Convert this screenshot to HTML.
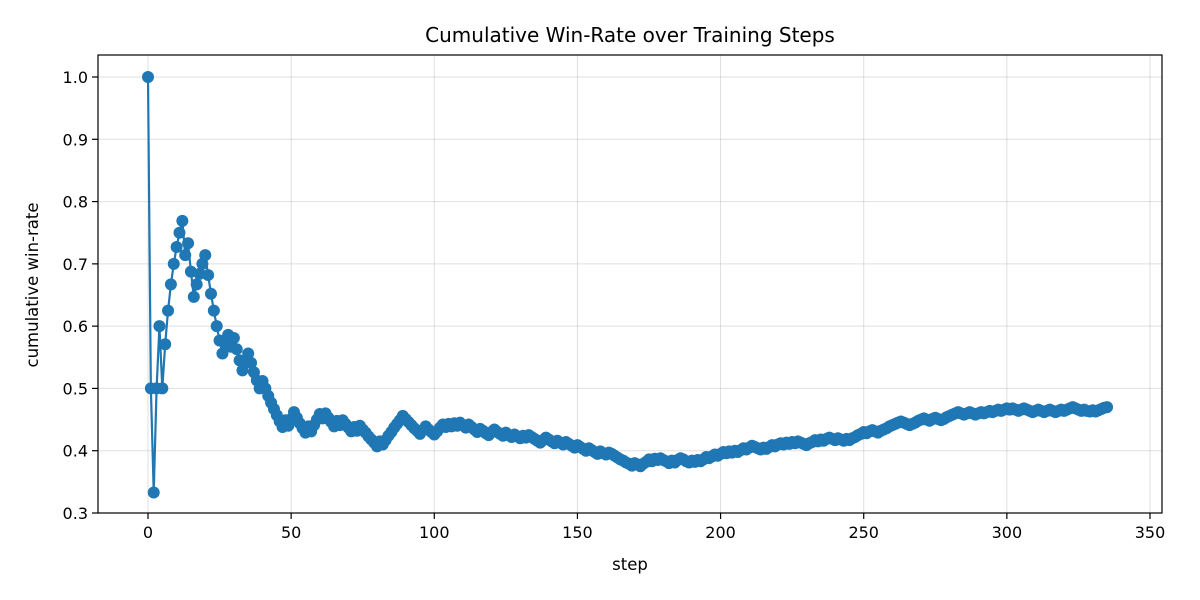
<!DOCTYPE html>
<html><head><meta charset="utf-8"><style>
html,body{margin:0;padding:0;background:#fff;}
svg{display:block;font-family:"DejaVu Sans","Liberation Sans",sans-serif;}
</style></head><body>
<svg id="chart" width="1200" height="600" viewBox="0 0 1200 600">
<rect x="0" y="0" width="1200" height="600" fill="#fff"/>
<text x="630" y="42" text-anchor="middle" font-size="20" fill="#000">Cumulative Win-Rate over Training Steps</text>
<g id="grid"></g>
<g id="xticks"></g>
<g id="yticks"></g>
<g id="series"></g>
<rect x="98" y="55" width="1064" height="458" fill="none" stroke="#000" stroke-width="1.2"/>
<text x="630" y="570" text-anchor="middle" font-size="16.5">step</text>
<text x="0" y="0" transform="translate(38,285) rotate(-90)" text-anchor="middle" font-size="16.5">cumulative win-rate</text>
</svg>
<script>
const xTicks = [0,50,100,150,200,250,300,350];
const yTicks = [0.3,0.4,0.5,0.6,0.7,0.8,0.9,1.0];
const winRate = [1.0,0.5,0.333,0.5,0.6,0.5,0.571,0.625,0.667,0.7,0.727,0.75,0.769,0.714,0.733,0.6875,0.647,0.667,0.684,0.7,
0.714,0.682,0.652,0.625,0.6,0.577,0.556,0.571,0.586,0.567,0.581,0.563,0.545,0.529,0.543,0.556,0.541,0.526,0.513,0.5,
0.512,0.5,0.488,0.477,0.467,0.457,0.447,0.438,0.449,0.44,0.451,0.462,0.453,0.444,0.436,0.429,0.439,0.431,0.441,0.45,
0.459,0.452,0.46,0.453,0.446,0.439,0.448,0.441,0.449,0.443,0.437,0.431,0.438,0.432,0.44,0.434,0.429,0.423,0.418,0.413,
0.407,0.415,0.41,0.417,0.424,0.43,0.437,0.443,0.449,0.456,0.451,0.446,0.441,0.436,0.432,0.427,0.433,0.439,0.434,0.43,
0.426,0.431,0.437,0.442,0.438,0.443,0.439,0.444,0.44,0.445,0.441,0.437,0.442,0.438,0.434,0.43,0.435,0.432,0.428,0.425,
0.43,0.434,0.43,0.427,0.424,0.429,0.425,0.422,0.426,0.423,0.42,0.424,0.421,0.425,0.422,0.419,0.416,0.413,0.417,0.421,
0.418,0.415,0.412,0.416,0.413,0.41,0.414,0.411,0.408,0.405,0.409,0.406,0.403,0.4,0.404,0.401,0.398,0.395,0.399,0.396,
0.394,0.397,0.395,0.392,0.389,0.386,0.384,0.381,0.379,0.376,0.38,0.378,0.375,0.379,0.382,0.386,0.383,0.387,0.385,0.388,
0.385,0.383,0.38,0.384,0.381,0.385,0.388,0.386,0.383,0.381,0.384,0.382,0.385,0.383,0.386,0.39,0.388,0.391,0.394,0.392,
0.395,0.398,0.396,0.399,0.397,0.4,0.398,0.401,0.404,0.402,0.405,0.408,0.406,0.404,0.402,0.405,0.403,0.406,0.409,0.407,
0.41,0.412,0.41,0.413,0.411,0.414,0.412,0.415,0.413,0.411,0.409,0.412,0.414,0.417,0.415,0.418,0.416,0.419,0.421,0.419,
0.417,0.42,0.418,0.416,0.419,0.417,0.42,0.422,0.425,0.427,0.43,0.428,0.431,0.433,0.431,0.429,0.432,0.434,0.436,0.439,
0.441,0.443,0.445,0.447,0.445,0.443,0.441,0.443,0.445,0.448,0.45,0.452,0.45,0.448,0.451,0.453,0.451,0.449,0.451,0.454,
0.456,0.458,0.46,0.462,0.46,0.458,0.46,0.462,0.46,0.458,0.46,0.462,0.46,0.462,0.464,0.462,0.464,0.466,0.464,0.466,
0.468,0.466,0.468,0.466,0.464,0.466,0.468,0.466,0.464,0.462,0.464,0.466,0.464,0.462,0.464,0.466,0.464,0.462,0.464,0.466,
0.464,0.466,0.468,0.47,0.468,0.466,0.464,0.466,0.464,0.463,0.465,0.463,0.465,0.467,0.469,0.47];

const NS = "http://www.w3.org/2000/svg";
const L = 98, R = 1162, T = 55, B = 513;
const xPx = 148, xPerUnit = (1150 - 148) / 350;
function xs(v){ return xPx + v * xPerUnit; }
function ys(v){ return B - (v - 0.3) / 0.7 * (B - 77); }
function mk(tag, attrs, parent){
  const e = document.createElementNS(NS, tag);
  for (const k in attrs) e.setAttribute(k, attrs[k]);
  parent.appendChild(e);
  return e;
}
const grid = document.getElementById('grid');
const xg = document.getElementById('xticks');
const yg = document.getElementById('yticks');
const sg = document.getElementById('series');

xTicks.forEach(t => {
  const x = xs(t);
  const gl = mk('line', {x1:x, x2:x, y1:T, y2:B, stroke:'#b0b0b0', 'stroke-width':1, 'stroke-opacity':0.4}, grid);
  
  
  const tk = mk('line', {x1:x, x2:x, y1:B, y2:B+6, stroke:'#000', 'stroke-width':1.2}, xg);
  
  
  const lb = mk('text', {x:x, y:B+25, 'text-anchor':'middle', 'font-size':16}, xg);
  lb.textContent = t;
  
  
});
yTicks.forEach(t => {
  const y = ys(t);
  const gl = mk('line', {x1:L, x2:R, y1:y, y2:y, stroke:'#b0b0b0', 'stroke-width':1, 'stroke-opacity':0.4}, grid);
  
  
  const tk = mk('line', {x1:L-6, x2:L, y1:y, y2:y, stroke:'#000', 'stroke-width':1.2}, yg);
  
  
  const lb = mk('text', {x:L-10, y:y+6, 'text-anchor':'end', 'font-size':16}, yg);
  lb.textContent = t.toFixed(1);
  
  
});

const pts = winRate.map((v, i) => xs(i).toFixed(2) + ',' + ys(v).toFixed(2)).join(' ');
const line = mk('polyline', {points:pts, fill:'none', stroke:'#1f77b4', 'stroke-width':2.2, 'stroke-linejoin':'round'}, sg);


winRate.forEach((v, i) => {
  const c = mk('circle', {cx:xs(i), cy:ys(v), r:6, fill:'#1f77b4'}, sg);
  
  
});
</script>
</body></html>
